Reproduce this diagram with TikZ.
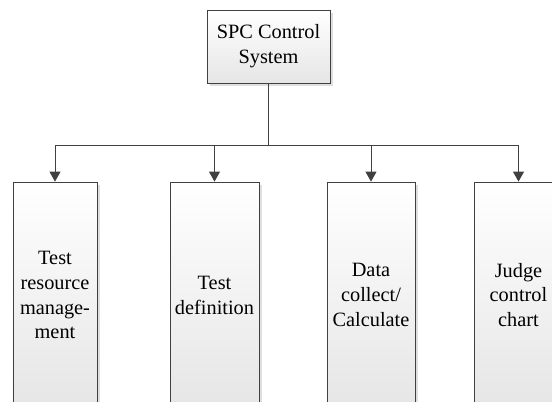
\documentclass[tikz,border=0pt]{standalone}
\usepackage{fontspec}
\setmainfont{Liberation Serif}
\usetikzlibrary{arrows.meta,shadows}

\begin{document}
\begin{tikzpicture}[x=1bp, y=-1bp,
    blk/.style={draw=black!75, line width=0.8bp, top color=white, bottom color=black!10,
      drop shadow={shadow xshift=2.5bp, shadow yshift=-2.5bp, opacity=0.25},
      align=center, inner sep=0pt, font=\fontsize{20.4}{25}\selectfont},
    link/.style={draw=black!75, line width=0.8bp, -{Triangle[width=11bp,length=10bp]}}]
  \useasboundingbox (0,0) rectangle (552,401);
  \clip (0,0) rectangle (552,401);
  \node[blk, minimum width=123bp, minimum height=73bp] (sys) at (268.5,46.5) {SPC Control\\System};
  \node[blk, minimum width=84bp, minimum height=226bp] (res) at (55,295) {Test\\resource\\manage-\\ment};
  \node[blk, minimum width=89bp, minimum height=226bp] (def) at (214.5,295) {Test\\definition};
  \node[blk, minimum width=88bp, minimum height=226bp] (dat) at (371,295) {Data\\collect/\\Calculate};
  \node[blk, minimum width=89bp, minimum height=226bp] (jud) at (518.5,295) {Judge\\control\\chart};
  \coordinate (bus) at (268.5,145);
  \draw[draw=black!75, line width=0.8bp] (sys.south) -- (bus);
  \draw[link] (bus) -| (res.north);
  \draw[link] (bus) -| (def.north);
  \draw[link] (bus) -| (dat.north);
  \draw[link] (bus) -| (jud.north);
\end{tikzpicture}
\end{document}
